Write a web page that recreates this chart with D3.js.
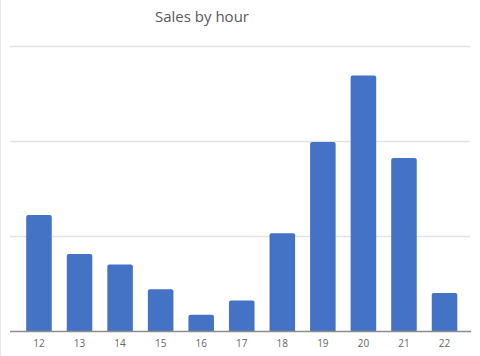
<!DOCTYPE html>
<html><head><meta charset="utf-8">
<script src="https://cdn.jsdelivr.net/npm/d3@7"></script>
<style>html,body{margin:0;padding:0;background:#fff;}svg{display:block;}</style>
</head><body>
<script>
const hours = ["12","13","14","15","16","17","18","19","20","21","22"];
const sales = [61, 40.5, 35, 22, 8.5, 16, 51.5, 99.5, 134.5, 91, 20];
const gridTicks = [0, 50, 100, 150];
const title = "Sales by hour";

const W = 480, H = 356;
const svg = d3.select("body").append("svg").attr("width", W).attr("height", H);
svg.append("rect").attr("x",0).attr("y",0).attr("width",W).attr("height",H).attr("fill","#fff");
svg.append("line").attr("x1",0.5).attr("x2",0.5).attr("y1",0).attr("y2",H).attr("stroke","#e6e6e6");

const x = d3.scaleBand().domain(hours).range([18.7, 464.8]).paddingInner(0.37).paddingOuter(0.185);
const y = d3.scaleLinear().domain([0, 150]).range([331, 46]);

svg.append("g").selectAll("line").data(gridTicks.slice(1)).join("line")
  .attr("x1", 10).attr("x2", 470).attr("y1", d => Math.round(y(d))+0.5).attr("y2", d => Math.round(y(d))+0.5)
  .attr("stroke", "#e3e3e3").attr("stroke-width", 1.5);

svg.append("g").selectAll("path").data(hours).join("path")
  .attr("fill", "#4472c4")
  .attr("d", (h,i) => {
    const x0 = x(h), w = x.bandwidth(), t = y(sales[i]), b = y(0), r = 2;
    return `M${x0},${b}V${t+r}Q${x0},${t} ${x0+r},${t}H${x0+w-r}Q${x0+w},${t} ${x0+w},${t+r}V${b}Z`;
  });

svg.append("line").attr("x1",10).attr("x2",471).attr("y1",331.5).attr("y2",331.5)
  .attr("stroke","#8c8c8c").attr("stroke-width",1.5);

const xAxis = d3.axisBottom(x).tickSize(0).tickPadding(8);
const gx = svg.append("g").attr("transform","translate(0,332)").call(xAxis);
gx.select(".domain").remove();
gx.selectAll("text").attr("fill","#666").attr("font-family","'Open Sans', sans-serif").attr("font-size","10px");

svg.append("text").attr("x", 202).attr("y", 22).attr("text-anchor","middle")
  .attr("font-family","'Open Sans', sans-serif").attr("font-size","15px").attr("fill","#595959")
  .text(title);
</script>
</body></html>
